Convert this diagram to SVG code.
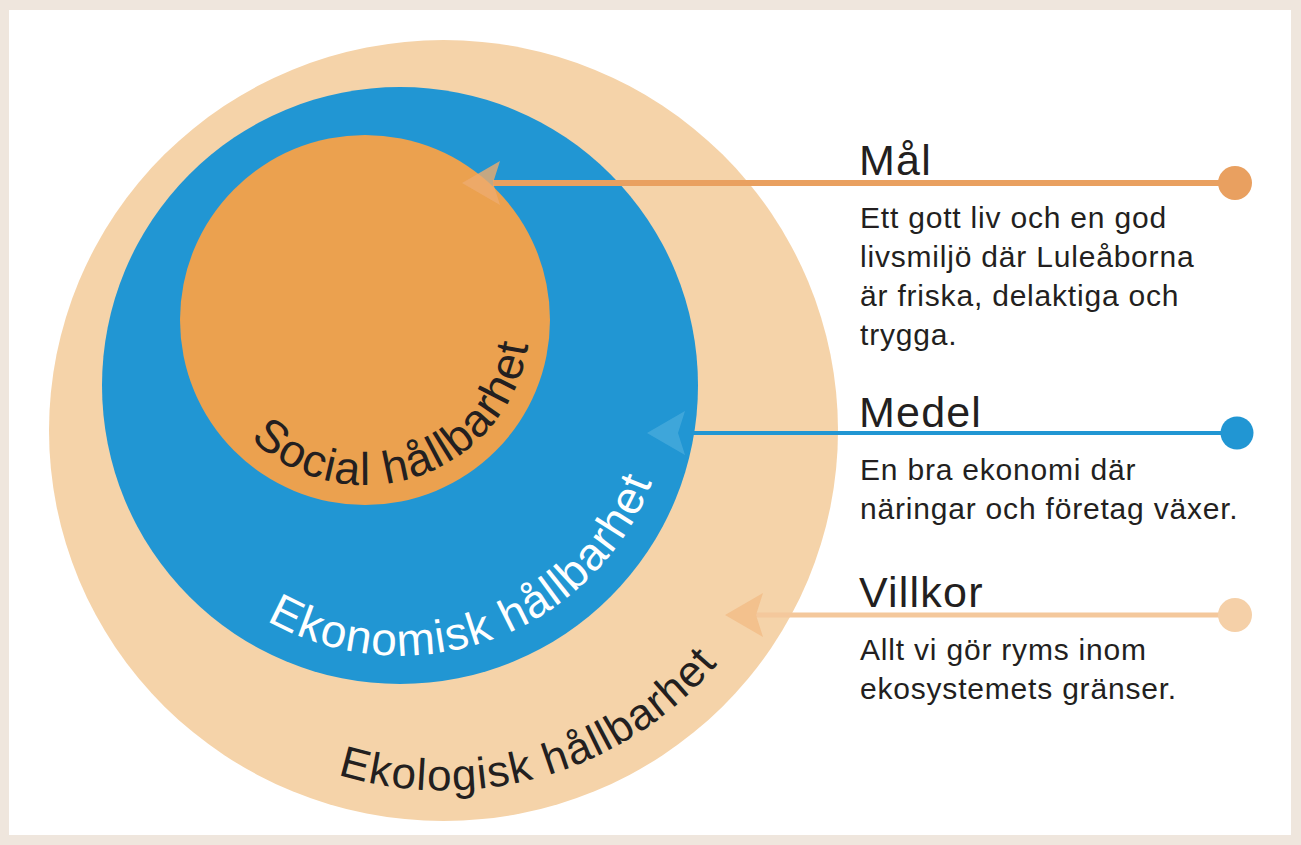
<svg xmlns="http://www.w3.org/2000/svg" width="1301" height="845" viewBox="0 0 1301 845">
<style>
.title{font-family:"Liberation Sans",Arial,sans-serif;font-size:43px;fill:#231f20;letter-spacing:1.2px}
.body{font-family:"Liberation Sans",Arial,sans-serif;font-size:30px;fill:#231f20;letter-spacing:0.8px}
.arc{font-family:"Liberation Sans",Arial,sans-serif;letter-spacing:1.3px}
</style>
<defs>
<path id="pSocial" d="M250.4,438.7 A165,165 0 0 0 507.9,237.5"/>
<path id="pEkonomi" d="M266.6,620.3 A270,270 0 0 0 665.9,338.6"/>
<path id="pEkologi" d="M337.7,774.6 A360,360 0 0 0 781.8,553.6"/>
<marker id="mMal" markerUnits="userSpaceOnUse" viewBox="-8 -23 41 46" refX="0" refY="0" markerWidth="41" markerHeight="46" orient="auto" overflow="visible">
<path d="M31,0 L-7,-22 L0,0 L-7,22 Z" fill="#eeab6e" fill-opacity="0.8"/>
</marker>
<marker id="mMedel" markerUnits="userSpaceOnUse" viewBox="-8 -23 41 46" refX="0" refY="0" markerWidth="41" markerHeight="46" orient="auto" overflow="visible">
<path d="M31,0 L-7,-22 L0,0 L-7,22 Z" fill="#6cbfe6" fill-opacity="0.4"/>
</marker>
<marker id="mVillkor" markerUnits="userSpaceOnUse" viewBox="-8 -23 41 46" refX="0" refY="0" markerWidth="41" markerHeight="46" orient="auto" overflow="visible">
<path d="M31,0 L-7,-22 L0,0 L-7,22 Z" fill="#f2bd88" fill-opacity="0.85"/>
</marker>
</defs>
<rect x="0" y="0" width="1301" height="845" fill="#efe6dd"/>
<rect x="9" y="10" width="1282" height="825" fill="#ffffff"/>

<g id="ekologisk">
<ellipse cx="443.5" cy="430.5" rx="394.5" ry="390.5" fill="#f5d3a9"/>
</g>
<g id="ekonomisk">
<ellipse cx="400" cy="385.5" rx="298" ry="298.5" fill="#2196d3"/>
</g>
<g id="social">
<circle cx="365" cy="320" r="185" fill="#eba14f"/>
</g>

<g id="connectors">
<line x1="1235" y1="183" x2="493" y2="183" stroke="#e9a060" stroke-width="6" marker-end="url(#mMal)"/>
<circle cx="1235" cy="183" r="17" fill="#e9a060"/>
<line x1="1237" y1="433" x2="678" y2="433" stroke="#2196d3" stroke-width="4" marker-end="url(#mMedel)"/>
<circle cx="1237" cy="433" r="16.5" fill="#2196d3"/>
<line x1="1235" y1="615" x2="756" y2="615" stroke="#f4c89c" stroke-width="5" marker-end="url(#mVillkor)"/>
<circle cx="1235" cy="615" r="17" fill="#f5d0a8"/>
</g>

<g id="label-social">
<text class="arc" font-size="46" fill="#231f20"><textPath href="#pSocial">Social hållbarhet</textPath></text>
</g>
<g id="label-ekonomisk">
<text class="arc" font-size="46" fill="#ffffff" letter-spacing="1.2"><textPath href="#pEkonomi">Ekonomisk hållbarhet</textPath></text>
</g>
<g id="label-ekologisk">
<text class="arc" font-size="44" fill="#231f20" letter-spacing="1.5"><textPath href="#pEkologi">Ekologisk hållbarhet</textPath></text>
</g>

<g id="mal">
<text class="title" x="859" y="175">Mål</text>
<text class="body" x="860" y="228">Ett gott liv och en god</text>
<text class="body" x="860" y="267">livsmiljö där Luleåborna</text>
<text class="body" x="860" y="306">är friska, delaktiga och</text>
<text class="body" x="860" y="345">trygga.</text>
</g>
<g id="medel">
<text class="title" x="859" y="427">Medel</text>
<text class="body" x="860" y="480">En bra ekonomi där</text>
<text class="body" x="860" y="519">näringar och företag växer.</text>
</g>
<g id="villkor">
<text class="title" x="859" y="607">Villkor</text>
<text class="body" x="860" y="660">Allt vi gör ryms inom</text>
<text class="body" x="860" y="699">ekosystemets gränser.</text>
</g>
</svg>
